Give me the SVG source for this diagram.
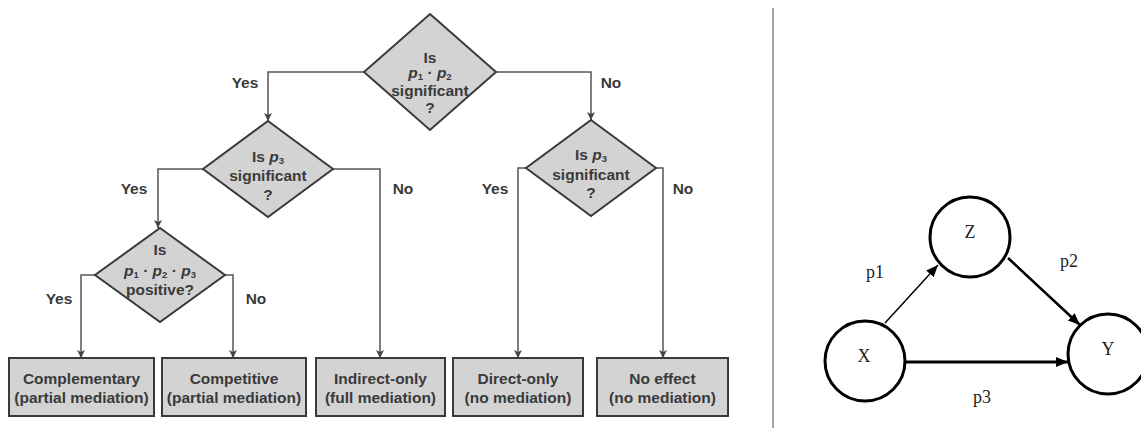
<svg xmlns="http://www.w3.org/2000/svg" width="1141" height="428" viewBox="0 0 1141 428">
<style>
.dia{fill:#d3d3d3;stroke:#3a3a3a;stroke-width:2}
.box{fill:#d3d3d3;stroke:#3a3a3a;stroke-width:2}
.t{font-family:"Liberation Sans",Arial,sans-serif;font-weight:bold;font-size:15.5px;fill:#3a3a3a;text-anchor:middle}
.sub{font-size:9.5px}
.it{font-style:italic}
.fl{fill:none;stroke:#555;stroke-width:1.5}
.c{fill:#fff;stroke:#000;stroke-width:3}
.s{font-family:"Liberation Serif","Times New Roman",serif;font-size:18px;fill:#222;text-anchor:middle}
.e{stroke:#000;fill:none}
</style>
<defs>
<marker id="fa" markerUnits="userSpaceOnUse" markerWidth="10" markerHeight="10" refX="8" refY="4" orient="auto">
<path d="M0,0 L8,4 L0,8 L2,4 z" fill="#444"/>
</marker>
<marker id="ba" markerUnits="userSpaceOnUse" markerWidth="14" markerHeight="12" refX="12" refY="5" orient="auto">
<path d="M0,0 L12,5 L0,10 z" fill="#000"/>
</marker>
</defs>
<rect width="1141" height="428" fill="#fff"/>

<g id="connectors">
<polyline class="fl" points="364,72 268,72 268,121" marker-end="url(#fa)"/>
<polyline class="fl" points="496,72 591,72 591,120" marker-end="url(#fa)"/>
<polyline class="fl" points="203,169 158,169 158,228" marker-end="url(#fa)"/>
<polyline class="fl" points="333,169 380,169 380,358" marker-end="url(#fa)"/>
<polyline class="fl" points="526,168 518,168 518,358" marker-end="url(#fa)"/>
<polyline class="fl" points="656,168 663,168 663,358" marker-end="url(#fa)"/>
<polyline class="fl" points="95,275 81,275 81,358" marker-end="url(#fa)"/>
<polyline class="fl" points="225,275 233,275 233,358" marker-end="url(#fa)"/>
<text class="t" x="245" y="88">Yes</text>
<text class="t" x="611" y="88">No</text>
<text class="t" x="134" y="194">Yes</text>
<text class="t" x="403" y="194">No</text>
<text class="t" x="495" y="194">Yes</text>
<text class="t" x="683" y="194">No</text>
<text class="t" x="59" y="304">Yes</text>
<text class="t" x="256" y="304">No</text>
<line x1="885" y1="323" x2="938" y2="265" class="e" stroke-width="1.5" marker-end="url(#ba)"/>
<line x1="1008" y1="258" x2="1080" y2="325" class="e" stroke-width="2.5" marker-end="url(#ba)"/>
<line x1="906" y1="362" x2="1068" y2="362" class="e" stroke-width="3" marker-end="url(#ba)"/>
<text class="s" x="875" y="278">p1</text>
<text class="s" x="1069" y="267">p2</text>
<text class="s" x="982" y="403">p3</text>
</g>

<line id="separator" x1="773" y1="8" x2="773" y2="428" stroke="#888" stroke-width="1.5"/>

<g id="d1">
<polygon class="dia" points="430,14 496,72 430,130 364,72"/>
<text class="t" x="430" y="63">Is</text>
<text class="t" x="430" y="78"><tspan class="it">p</tspan><tspan class="sub" dy="2">1</tspan><tspan dy="-2"> · </tspan><tspan class="it">p</tspan><tspan class="sub" dy="2">2</tspan></text>
<text class="t" x="430" y="96">significant</text>
<text class="t" x="430" y="113">?</text>
</g>

<g id="d2">
<polygon class="dia" points="268,121 333,169 268,217 203,169"/>
<text class="t" x="268" y="162">Is <tspan class="it">p</tspan><tspan class="sub" dy="2">3</tspan></text>
<text class="t" x="268" y="181">significant</text>
<text class="t" x="268" y="200">?</text>
</g>

<g id="d3">
<polygon class="dia" points="591,120 656,168 591,216 526,168"/>
<text class="t" x="591" y="160">Is <tspan class="it">p</tspan><tspan class="sub" dy="2">3</tspan></text>
<text class="t" x="591" y="180">significant</text>
<text class="t" x="591" y="198">?</text>
</g>

<g id="d4">
<polygon class="dia" points="160,228 225,275 160,322 95,275"/>
<text class="t" x="160" y="255">Is</text>
<text class="t" x="160" y="276"><tspan class="it">p</tspan><tspan class="sub" dy="2">1</tspan><tspan dy="-2"> · </tspan><tspan class="it">p</tspan><tspan class="sub" dy="2">2</tspan><tspan dy="-2"> · </tspan><tspan class="it">p</tspan><tspan class="sub" dy="2">3</tspan></text>
<text class="t" x="160" y="295">positive?</text>
</g>

<g id="b1">
<rect class="box" x="9" y="358" width="145" height="58"/>
<text class="t" x="81.5" y="384">Complementary</text>
<text class="t" x="81.5" y="403">(partial mediation)</text>
</g>
<g id="b2">
<rect class="box" x="162" y="358" width="144" height="58"/>
<text class="t" x="234" y="384">Competitive</text>
<text class="t" x="234" y="403">(partial mediation)</text>
</g>
<g id="b3">
<rect class="box" x="316" y="358" width="129" height="58"/>
<text class="t" x="380.5" y="384">Indirect-only</text>
<text class="t" x="380.5" y="403">(full mediation)</text>
</g>
<g id="b4">
<rect class="box" x="453" y="358" width="130" height="58"/>
<text class="t" x="518" y="384">Direct-only</text>
<text class="t" x="518" y="403">(no mediation)</text>
</g>
<g id="b5">
<rect class="box" x="597" y="358" width="131" height="58"/>
<text class="t" x="662.5" y="384">No effect</text>
<text class="t" x="662.5" y="403">(no mediation)</text>
</g>

<g id="Z">
<circle class="c" cx="970" cy="237" r="40"/>
<text class="s" x="970" y="238">Z</text>
</g>
<g id="X">
<circle class="c" cx="865" cy="361" r="40"/>
<text class="s" x="864" y="362">X</text>
</g>
<g id="Y">
<circle class="c" cx="1108" cy="354" r="40"/>
<text class="s" x="1108" y="355">Y</text>
</g>
</svg>
